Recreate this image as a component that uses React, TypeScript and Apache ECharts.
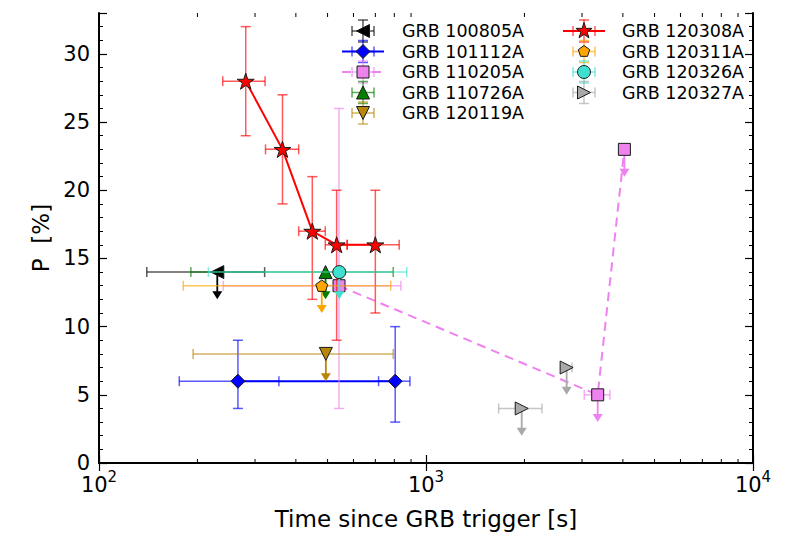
import React, { useEffect, useRef } from 'react';
import * as echarts from 'echarts';

// Each point: [time, P, timeLow, timeHigh, P_low, P_high, upperLimit(1/0)]  (0 = no error given)
type Pt = [number, number, number, number, number, number, number];

const GRB100805A: Pt[] = [[230, 14, 140, 321, 0, 0, 1]];
const GRB101112A: Pt[] = [
  [266, 6, 176, 355, 4, 9, 0],
  [805, 6, 716, 893, 3, 10, 0],
];
const GRB110205A: Pt[] = [
  [542, 13, 240, 838, 4, 26, 0],
  [3350, 5, 3048, 3653, 0, 0, 1],
  [4043, 23, 0, 0, 0, 0, 1],
];
const GRB110726A: Pt[] = [[493, 14, 191, 794, 0, 0, 1]];
const GRB120119A: Pt[] = [[494, 8, 194, 794, 0, 0, 1]];
const GRB120308A: Pt[] = [
  [281, 28, 239, 322, 24, 32, 0],
  [364, 23, 323, 408, 19, 27, 0],
  [449, 17, 408, 492, 12, 21, 0],
  [533, 16, 492, 574, 9, 20, 0],
  [700, 16, 574, 828, 11, 20, 0],
];
const GRB120311A: Pt[] = [[480, 13, 181, 780, 0, 0, 1]];
const GRB120326A: Pt[] = [[543, 14, 216, 873, 0, 0, 1]];
const GRB120327A: Pt[] = [
  [1962, 4, 1668, 2263, 0, 0, 1],
  [2692, 7, 2600, 2796, 0, 0, 1],
];
const UL_DROP = 2; // length of upper-limit arrows in P units

const X_MINOR = [200, 300, 400, 500, 600, 700, 800, 900, 2000, 3000, 4000, 5000, 6000, 7000, 8000, 9000];
const X_MIN = 100, X_MAX = 10000;
const Y_MIN = 0, Y_MAX = 33, Y_STEP = 5;

const FONT = 'DejaVu Sans';

type Shape = 'tri-left' | 'tri-right' | 'tri-up' | 'tri-down' | 'diamond' | 'square' | 'circle' | 'star' | 'pentagon';
interface Burst { name: string; data: Pt[]; color: string; shape: Shape; size: number; line?: 'solid' | 'dashed'; }

const BURSTS: Burst[] = [
  { name: 'GRB 100805A', data: GRB100805A, color: '#000000', shape: 'tri-left', size: 13 },
  { name: 'GRB 101112A', data: GRB101112A, color: '#0000ff', shape: 'diamond', size: 14, line: 'solid' },
  { name: 'GRB 110205A', data: GRB110205A, color: '#ee82ee', shape: 'square', size: 12, line: 'dashed' },
  { name: 'GRB 110726A', data: GRB110726A, color: '#008000', shape: 'tri-up', size: 13 },
  { name: 'GRB 120119A', data: GRB120119A, color: '#b8860b', shape: 'tri-down', size: 13 },
  { name: 'GRB 120308A', data: GRB120308A, color: '#ff0000', shape: 'star', size: 17, line: 'solid' },
  { name: 'GRB 120311A', data: GRB120311A, color: '#ffa500', shape: 'pentagon', size: 12 },
  { name: 'GRB 120326A', data: GRB120326A, color: '#40e0d0', shape: 'circle', size: 13 },
  { name: 'GRB 120327A', data: GRB120327A, color: '#a9a9a9', shape: 'tri-right', size: 13 },
];

const EDGE = '#1a1a1a';
const BAR_OPACITY = 0.65;
const CAP = 5;

function starPts(R: number): number[][] {
  const pts: number[][] = [];
  for (let i = 0; i < 10; i++) {
    const a = ((-90 + i * 36) * Math.PI) / 180;
    const r = i % 2 ? R * 0.382 : R;
    pts.push([r * Math.cos(a), r * Math.sin(a)]);
  }
  return pts;
}
function polyPts(n: number, R: number, startDeg: number): number[][] {
  const pts: number[][] = [];
  for (let i = 0; i < n; i++) {
    const a = ((startDeg + (i * 360) / n) * Math.PI) / 180;
    pts.push([R * Math.cos(a), R * Math.sin(a)]);
  }
  return pts;
}
function triPts(s: number, dir: string): number[][] {
  const h = s / 2;
  if (dir === 'up') return [[0, -h], [h, h], [-h, h]];
  if (dir === 'down') return [[0, h], [h, -h], [-h, -h]];
  if (dir === 'left') return [[-h, 0], [h, -h], [h, h]];
  return [[h, 0], [-h, -h], [-h, h]];
}
function toPath(pts: number[][]): string {
  return 'path://M' + pts.map((p) => p[0].toFixed(3) + ' ' + p[1].toFixed(3)).join(' L') + ' Z';
}

function symbolFor(b: Burst): { symbol: string; rotate: number; size: any; keep: boolean } {
  switch (b.shape) {
    case 'tri-left': return { symbol: 'triangle', rotate: 90, size: b.size, keep: false };
    case 'tri-right': return { symbol: 'triangle', rotate: -90, size: b.size, keep: false };
    case 'tri-up': return { symbol: 'triangle', rotate: 0, size: b.size, keep: false };
    case 'tri-down': return { symbol: 'triangle', rotate: 180, size: b.size, keep: false };
    case 'diamond': return { symbol: 'diamond', rotate: 0, size: b.size, keep: false };
    case 'square': return { symbol: 'rect', rotate: 0, size: b.size, keep: false };
    case 'circle': return { symbol: 'circle', rotate: 0, size: b.size, keep: false };
    case 'star': return { symbol: toPath(starPts(10)), rotate: 0, size: b.size, keep: true };
    default: return { symbol: toPath(polyPts(5, 10, -90)), rotate: 0, size: b.size, keep: true };
  }
}

function legendMarker(b: Burst): any {
  const style = { fill: b.color, stroke: EDGE, lineWidth: 1 };
  const s = b.size;
  switch (b.shape) {
    case 'tri-left': return { type: 'polygon', shape: { points: triPts(s, 'left') }, style };
    case 'tri-right': return { type: 'polygon', shape: { points: triPts(s, 'right') }, style };
    case 'tri-up': return { type: 'polygon', shape: { points: triPts(s, 'up') }, style };
    case 'tri-down': return { type: 'polygon', shape: { points: triPts(s, 'down') }, style };
    case 'diamond': return { type: 'polygon', shape: { points: [[0, -s / 2], [s / 2, 0], [0, s / 2], [-s / 2, 0]] }, style };
    case 'square': return { type: 'rect', shape: { x: -s / 2, y: -s / 2, width: s, height: s }, style };
    case 'circle': return { type: 'circle', shape: { cx: 0, cy: 0, r: s / 2 }, style };
    case 'star': return { type: 'polygon', shape: { points: starPts(s / 2) }, style };
    default: return { type: 'polygon', shape: { points: polyPts(5, s / 2, -90) }, style };
  }
}

function errorSeries(b: Burst, z: number): any {
  return {
    type: 'custom',
    name: b.name + ' errors',
    z,
    silent: true,
    clip: false,
    data: b.data.map((d) => d.slice()),
    encode: { x: 0, y: 1 },
    renderItem: (params: any, api: any) => {
      const t = api.value(0), p = api.value(1);
      const tlo = api.value(2), thi = api.value(3), plo = api.value(4), phi = api.value(5), ul = api.value(6);
      const children: any[] = [];
      const st = { stroke: b.color, lineWidth: 1.5, opacity: BAR_OPACITY };
      const c = api.coord([t, p]);
      if (tlo > 0 && thi > 0) {
        const a = api.coord([tlo, p]);
        const e = api.coord([thi, p]);
        children.push({ type: 'line', shape: { x1: a[0], y1: a[1], x2: e[0], y2: e[1] }, style: st });
        children.push({ type: 'line', shape: { x1: a[0], y1: a[1] - CAP, x2: a[0], y2: a[1] + CAP }, style: st });
        children.push({ type: 'line', shape: { x1: e[0], y1: e[1] - CAP, x2: e[0], y2: e[1] + CAP }, style: st });
      }
      if (phi > 0) {
        const a = api.coord([t, plo]);
        const e = api.coord([t, phi]);
        children.push({ type: 'line', shape: { x1: a[0], y1: a[1], x2: e[0], y2: e[1] }, style: st });
        children.push({ type: 'line', shape: { x1: a[0] - CAP, y1: a[1], x2: a[0] + CAP, y2: a[1] }, style: st });
        children.push({ type: 'line', shape: { x1: e[0] - CAP, y1: e[1], x2: e[0] + CAP, y2: e[1] }, style: st });
      }
      if (ul) {
        const e = api.coord([t, p - UL_DROP]);
        children.push({ type: 'line', shape: { x1: c[0], y1: c[1], x2: e[0], y2: e[1] - 4 }, style: { stroke: b.color, lineWidth: 1.8 } });
        children.push({
          type: 'polygon',
          shape: { points: [[e[0] - 5, e[1] - 8], [e[0] + 5, e[1] - 8], [e[0], e[1]]] },
          style: { fill: b.color },
        });
      }
      return { type: 'group', children };
    },
  };
}

function markerSeries(b: Burst, z: number): any {
  const sym = symbolFor(b);
  const common = {
    name: b.name,
    z,
    silent: true,
    data: b.data.map((d) => [d[0], d[1]]),
    symbol: sym.symbol,
    symbolSize: sym.size,
    symbolRotate: sym.rotate,
    symbolKeepAspect: sym.keep,
    itemStyle: { color: b.color, borderColor: EDGE, borderWidth: 1, opacity: 1 },
    emphasis: { disabled: true },
  };
  if (b.line) {
    return {
      ...common,
      type: 'line',
      showSymbol: true,
      showAllSymbol: true,
      lineStyle: { color: b.color, width: 2, type: b.line === 'dashed' ? [9, 6] : 'solid' },
    };
  }
  return { ...common, type: 'scatter' };
}

function minorTickSeries(): any {
  return {
    type: 'custom',
    name: 'x minor ticks',
    silent: true,
    clip: false,
    z: 50,
    data: X_MINOR.map((v) => [v, Y_MIN]),
    encode: { x: 0, y: 1 },
    renderItem: (params: any, api: any) => {
      const x = api.coord([api.value(0), Y_MIN])[0];
      const top = params.coordSys.y;
      const bottom = top + params.coordSys.height;
      const st = { stroke: '#000', lineWidth: 1 };
      return {
        type: 'group',
        children: [
          { type: 'line', shape: { x1: x, y1: bottom, x2: x, y2: bottom - 4 }, style: st },
          { type: 'line', shape: { x1: x, y1: top, x2: x, y2: top + 4 }, style: st },
        ],
      };
    },
  };
}

function legendGraphics(): any[] {
  const cols = [{ mx: 363, tx: 402 }, { mx: 584, tx: 622 }];
  const row0 = 31, dy = 20.5;
  return BURSTS.map((b, i) => {
    const col = i < 5 ? 0 : 1;
    const row = i < 5 ? i : i - 5;
    const cx = cols[col].mx;
    const cy = row0 + row * dy;
    const st = { stroke: b.color, lineWidth: 1.5, opacity: BAR_OPACITY };
    const children: any[] = [];
    if (b.line) {
      children.push({
        type: 'line',
        shape: { x1: -21, y1: 0, x2: 21, y2: 0 },
        style: { stroke: b.color, lineWidth: 2, lineDash: b.line === 'dashed' ? [9, 6] : null },
      });
    }
    const L = 11;
    children.push({ type: 'line', shape: { x1: -L, y1: 0, x2: L, y2: 0 }, style: st });
    children.push({ type: 'line', shape: { x1: -L, y1: -CAP, x2: -L, y2: CAP }, style: st });
    children.push({ type: 'line', shape: { x1: L, y1: -CAP, x2: L, y2: CAP }, style: st });
    children.push({ type: 'line', shape: { x1: 0, y1: -L, x2: 0, y2: L }, style: st });
    children.push({ type: 'line', shape: { x1: -CAP, y1: -L, x2: CAP, y2: -L }, style: st });
    children.push({ type: 'line', shape: { x1: -CAP, y1: L, x2: CAP, y2: L }, style: st });
    children.push(legendMarker(b));
    children.push({
      type: 'text',
      x: cols[col].tx - cx,
      y: 0,
      style: { text: b.name, fontSize: 17.5, fontFamily: FONT, fill: '#000', align: 'left', verticalAlign: 'middle' },
    });
    return { type: 'group', x: cx, y: cy, z: 100, silent: true, children };
  });
}

function buildOption(): any {
  const series: any[] = [];
  BURSTS.forEach((b, i) => {
    series.push(errorSeries(b, 10 + i * 2));
    series.push(markerSeries(b, 11 + i * 2));
  });
  series.push(minorTickSeries());

  const axisLine = { show: true, lineStyle: { color: '#000', width: 2 } };
  const tick = { show: true, inside: true, length: 8, lineStyle: { color: '#000', width: 1.2 } };
  const minor = { show: true, splitNumber: 5, length: 4, lineStyle: { color: '#000', width: 1 } };

  return {
    animation: false,
    backgroundColor: '#fff',
    textStyle: { fontFamily: FONT },
    grid: { left: 99, right: 36, top: 13, bottom: 90, containLabel: false },
    xAxis: [
      {
        type: 'log',
        logBase: 10,
        min: X_MIN,
        max: X_MAX,
        position: 'bottom',
        axisLine,
        axisTick: tick,
        splitLine: { show: false },
        axisLabel: {
          margin: 6,
          formatter: (v: number) => `{b|10}{s|${Math.round(Math.log10(v))}}`,
          rich: {
            b: { fontSize: 21, fontFamily: FONT, color: '#000', verticalAlign: 'bottom', lineHeight: 26 },
            s: { fontSize: 15, fontFamily: FONT, color: '#000', verticalAlign: 'top', lineHeight: 15 },
          },
        },
        name: 'Time since GRB trigger [s]',
        nameLocation: 'middle',
        nameGap: 44,
        nameTextStyle: { fontSize: 23, fontFamily: FONT, color: '#000' },
      },
      {
        type: 'log',
        logBase: 10,
        min: X_MIN,
        max: X_MAX,
        position: 'top',
        axisLine,
        axisTick: tick,
        axisLabel: { show: false },
        splitLine: { show: false },
      },
    ],
    yAxis: [
      {
        type: 'value',
        min: Y_MIN,
        max: Y_MAX,
        interval: Y_STEP,
        position: 'left',
        axisLine,
        axisTick: tick,
        minorTick: minor,
        splitLine: { show: false },
        axisLabel: { fontSize: 21, fontFamily: FONT, color: '#000', margin: 9, showMaxLabel: false },
        name: 'P  [%]',
        nameLocation: 'middle',
        nameGap: 44,
        nameRotate: 90,
        nameTextStyle: { fontSize: 23, fontFamily: FONT, color: '#000' },
      },
      {
        type: 'value',
        min: Y_MIN,
        max: Y_MAX,
        interval: Y_STEP,
        position: 'right',
        axisLine,
        axisTick: tick,
        minorTick: minor,
        splitLine: { show: false },
        axisLabel: { show: false },
      },
    ],
    series,
    graphic: legendGraphics(),
  };
}

export default function App() {
  const ref = useRef<HTMLDivElement>(null);
  useEffect(() => {
    document.body.style.margin = '0';
    const chart = echarts.init(ref.current as HTMLDivElement, null, { renderer: 'svg' });
    chart.setOption(buildOption());
    return () => chart.dispose();
  }, []);
  return <div ref={ref} style={{ width: 789, height: 553 }} />;
}
